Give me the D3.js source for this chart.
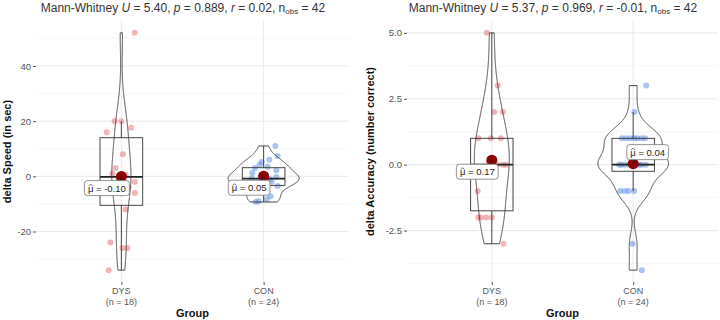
<!DOCTYPE html>
<html><head><meta charset="utf-8">
<script src="https://cdn.jsdelivr.net/npm/d3@7/dist/d3.min.js"></script>
<style>
body{margin:0;background:#fff}
svg{display:block;font-family:"Liberation Sans",Arial,Helvetica,sans-serif}
</style>
</head><body>
<svg id="chart" width="720" height="320"></svg>
<script>
// ---------- data ----------
const groups = ["DYS", "CON"];
const groupCounts = ["(n = 18)", "(n = 24)"];

const speedDYS       = [52, 20, 20, 17.6, 16, 8, 3, 1, 0.6, -1, -2, -4, -6, -12, -24, -26, -26, -34];
const speedDYSJitter = [0.094, -0.047, 0.0, 0.068, -0.103, 0.011, -0.04, -0.063, 0.03, -0.02, 0.094, 0.05, 0.094, 0.03, -0.077, 0.007, 0.042, -0.089];
const speedCON       = [11, 7.4, 6.0, 5.2, 4.2, 3.5, 3.0, 2.2, 1.2, 0.5, -0.2, -0.8, -0.8, -1.0, -1.5, -2.0, -2.5, -3.2, -3.5, -5.7, -7.2, -8.3, -9.0, -9.3];
const speedCONJitter = [0.082, 0.098, 0.04, -0.014, -0.028, 0.028, -0.061, 0.089, -0.079, -0.014, 0.089, -0.084, 0.014, 0.044, -0.042, 0.056, -0.098, -0.014, 0.098, -0.093, 0.049, 0.021, -0.035, -0.056];
const speedMeans     = [-0.10, 0.05];
const speedMeanText  = ["-0.10", "0.05"];
const speedTicks     = [-20, 0, 20, 40];
const speedTickText  = ["-20", "0", "20", "40"];
const speedMinor     = [-30, -10, 10, 30, 50];
const speedStats     = ["5.40", "0.889", "0.02", "42"];
const speedYTitle    = "delta Speed (in sec)";

const accDYS       = [5, 3, 2, 2, 1, 1, 1, 0, 0, 0, 0, 0, -1, -2, -2, -2, -2, -3];
const accDYSJitter = [-0.035, 0.042, 0.018, 0.078, -0.095, -0.007, 0.064, 0.078, 0.101, -0.026, 0.01, 0.037, -0.1, -0.095, -0.078, -0.04, 0.0, 0.082];
const accCON       = [3, 2, 1, 1, 1, 1, 1, 1, 1, 0, 0, 0, 0, 0, 0, 0, 0, 0, -1, -1, -1, -1, -3, -4];
const accCONJitter = [0.092, 0.009, 0.009, 0.085, 0.03, -0.05, -0.08, 0.06, -0.02, -0.085, 0.061, -0.06, -0.03, 0.0, 0.03, 0.09, -0.1, 0.045, -0.092, -0.033, 0.007, -0.06, -0.005, 0.061];
const accMeans     = [0.17, 0.04];
const accMeanText  = ["0.17", "0.04"];
const accTicks     = [-2.5, 0, 2.5, 5];
const accTickText  = ["-2.5", "0.0", "2.5", "5.0"];
const accMinor     = [-3.75, -1.25, 1.25, 3.75];
const accStats     = ["5.37", "0.969", "-0.01", "42"];
const accYTitle    = "delta Accuracy  (number correct)";

// ---------- layout / style ----------
const fills = ["#E8797B", "#6492E4"];
const panels = [
  {x0: 36, x1: 349, groupsData: [speedDYS, speedCON], jit: [speedDYSJitter, speedCONJitter],
   ticks: speedTicks, tickText: speedTickText, minor: speedMinor, means: speedMeans, meanText: speedMeanText,
   stats: speedStats, ytitle: speedYTitle, titleX: 183, ytitleX: 11, labelDir: [[-1, 1], [-1, 1]]},
  {x0: 407, x1: 718, groupsData: [accDYS, accCON], jit: [accDYSJitter, accCONJitter],
   ticks: accTicks, tickText: accTickText, minor: accMinor, means: accMeans, meanText: accMeanText,
   stats: accStats, ytitle: accYTitle, titleX: 553, ytitleX: 374, labelDir: [[-1, 1], [1, -1]]}
];
const yTop = 21, yBottom = 282;
const svg = d3.select("#chart");

function kde(vals) {
  const s = vals.slice().sort(d3.ascending), n = s.length;
  const sd = d3.deviation(s);
  const iqr = (d3.quantile(s, 0.75) - d3.quantile(s, 0.25)) / 1.34;
  let lo = Math.min(sd, iqr);
  if (!lo) lo = sd || 1;
  const bw = 0.9 * lo * Math.pow(n, -0.2);
  const mn = s[0], mx = s[n - 1];
  return d3.range(512).map(i => {
    const yv = mn + (mx - mn) * i / 511;
    let d = 0;
    for (const v of s) { const z = (yv - v) / bw; d += Math.exp(-0.5 * z * z); }
    return [yv, d / (n * bw * Math.sqrt(2 * Math.PI))];
  });
}

panels.forEach(p => {
  const g = svg.append("g");
  const all = p.groupsData.flat();
  const [mn, mx] = d3.extent(all);
  const pad = (mx - mn) * 0.05;
  const y = d3.scaleLinear().domain([mn - pad, mx + pad]).range([yBottom, yTop]);
  const x = d3.scalePoint().domain(groups).range([p.x0, p.x1]).padding(0.6);
  const step = x.step();

  // grid
  g.selectAll(".minor").data(p.minor).join("line")
    .attr("x1", p.x0).attr("x2", p.x1).attr("y1", d => y(d)).attr("y2", d => y(d))
    .attr("stroke", "#f3f3f3").attr("stroke-width", 0.7);
  g.selectAll(".major").data(p.ticks).join("line")
    .attr("x1", p.x0).attr("x2", p.x1).attr("y1", d => y(d)).attr("y2", d => y(d))
    .attr("stroke", "#e6e6e6").attr("stroke-width", 0.9);
  g.selectAll(".vmajor").data(groups).join("line")
    .attr("x1", d => x(d)).attr("x2", d => x(d)).attr("y1", yTop).attr("y2", yBottom)
    .attr("stroke", "#e6e6e6").attr("stroke-width", 0.9);

  // axes
  const ya = g.append("g").attr("transform", `translate(${p.x0},0)`)
    .call(d3.axisLeft(y).tickValues(p.ticks).tickFormat((d, i) => p.tickText[i]).tickSize(3).tickPadding(2));
  ya.select(".domain").remove();
  ya.selectAll("line").attr("stroke", "#555");
  ya.selectAll("text").attr("fill", "#555").attr("font-size", 9.5).attr("font-family", "Liberation Sans, Arial, sans-serif");

  const xa = g.append("g").attr("transform", `translate(0,${yBottom})`)
    .call(d3.axisBottom(x).tickSize(3).tickFormat(""));
  xa.select(".domain").remove();
  xa.selectAll("line").attr("stroke", "#555");
  groups.forEach((gr, i) => {
    g.append("text").attr("x", x(gr)).attr("y", 294).attr("text-anchor", "middle")
      .attr("font-size", 9).attr("fill", "#555").text(gr);
    g.append("text").attr("x", x(gr)).attr("y", 304.5).attr("text-anchor", "middle")
      .attr("font-size", 9).attr("fill", "#555").text(groupCounts[i]);
  });

  // global density max for area-scaled violins
  const dens = p.groupsData.map(kde);
  const dmax = d3.max(dens, d => d3.max(d, e => e[1]));

  p.groupsData.forEach((vals, gi) => {
    const cx = x(groups[gi]);
    // points
    g.selectAll(null).data(vals).join("circle")
      .attr("cx", (d, i) => cx + p.jit[gi][i] * step).attr("cy", d => y(d)).attr("r", 3)
      .attr("fill", fills[gi]).attr("fill-opacity", 0.55);

    // box
    const s = vals.slice().sort(d3.ascending);
    const q1 = d3.quantile(s, 0.25), q2 = d3.quantile(s, 0.5), q3 = d3.quantile(s, 0.75);
    const iqr = q3 - q1;
    const wHi = d3.max(s.filter(v => v <= q3 + 1.5 * iqr));
    const wLo = d3.min(s.filter(v => v >= q1 - 1.5 * iqr));
    const bw = 0.3 * step;
    g.append("line").attr("x1", cx).attr("x2", cx).attr("y1", y(q3)).attr("y2", y(wHi)).attr("stroke", "#333").attr("stroke-width", 0.9);
    g.append("line").attr("x1", cx).attr("x2", cx).attr("y1", y(q1)).attr("y2", y(wLo)).attr("stroke", "#333").attr("stroke-width", 0.9);
    g.append("rect").attr("x", cx - bw / 2).attr("width", bw).attr("y", y(q3)).attr("height", y(q1) - y(q3))
      .attr("fill", "none").attr("stroke", "#333").attr("stroke-width", 0.9);
    g.append("line").attr("x1", cx - bw / 2).attr("x2", cx + bw / 2).attr("y1", y(q2)).attr("y2", y(q2))
      .attr("stroke", "#222").attr("stroke-width", 1.8);

    // violin
    const d = dens[gi];
    const hw = v => v / dmax * 0.25 * step;
    const pts = d.map(e => [cx + hw(e[1]), y(e[0])]).concat(d.slice().reverse().map(e => [cx - hw(e[1]), y(e[0])]));
    g.append("path").attr("d", d3.line()(pts) + "Z").attr("fill", "none").attr("stroke", "#333").attr("stroke-width", 0.9);
  });

  // means + labels
  p.groupsData.forEach((vals, gi) => {
    const cx = x(groups[gi]), cy = y(p.means[gi]);
    g.append("circle").attr("cx", cx).attr("cy", cy).attr("r", 5.5).attr("fill", "#8B0000");
    const [dx, dy] = p.labelDir[gi];
    const lx = cx + dx * 14.5, ly = cy + dy * 11.5;
    const lg = g.append("g");
    const txt = lg.append("text").attr("x", lx).attr("y", ly + 3.4).attr("text-anchor", "middle")
      .attr("font-size", 9.5).attr("fill", "#222").text("\u03BC = " + p.meanText[gi]);
    const tw = txt.node().getComputedTextLength() + 7;
    const th = 15;
    // hat over mu
    const ext = txt.node().getExtentOfChar(0);
    const hx = ext.x + ext.width / 2, hy = ly - 3.6;
    lg.append("path").attr("d", `M${hx - 1.8},${hy + 1.4}L${hx},${hy - 0.4}L${hx + 1.8},${hy + 1.4}`)
      .attr("fill", "none").attr("stroke", "#222").attr("stroke-width", 0.7);
    g.append("line").attr("x1", cx).attr("y1", cy).attr("x2", lx - dx * tw / 2 * 0.6).attr("y2", ly - dy * th / 2)
      .attr("stroke", "#111").attr("stroke-width", 0.8);
    lg.insert("rect", "text").attr("x", lx - tw / 2).attr("y", ly - th / 2).attr("width", tw).attr("height", th)
      .attr("rx", 3).attr("fill", "#fff").attr("stroke", "#777").attr("stroke-width", 0.8);
    lg.raise();
  });

  // titles
  const t = g.append("text").attr("x", p.titleX).attr("y", 12).attr("text-anchor", "middle")
    .attr("font-size", 12).attr("fill", "#333");
  t.append("tspan").text("Mann-Whitney ");
  t.append("tspan").attr("font-style", "italic").text("U");
  t.append("tspan").text(" = " + p.stats[0] + ", ");
  t.append("tspan").attr("font-style", "italic").text("p");
  t.append("tspan").text(" = " + p.stats[1] + ", ");
  t.append("tspan").attr("font-style", "italic").text("r");
  t.append("tspan").text(" = " + p.stats[2] + ", n");
  t.append("tspan").attr("font-size", 8).attr("dy", 1.5).text("obs");
  t.append("tspan").attr("dy", -1.5).text(" = " + p.stats[3]);

  g.append("text").attr("transform", `translate(${p.ytitleX},${(yTop + yBottom) / 2}) rotate(-90)`)
    .attr("text-anchor", "middle").attr("font-size", 11).attr("font-weight", "bold").attr("fill", "#111")
    .text(p.ytitle);
  g.append("text").attr("x", (p.x0 + p.x1) / 2).attr("y", 317).attr("text-anchor", "middle")
    .attr("font-size", 11).attr("font-weight", "bold").attr("fill", "#111").text("Group");
});
</script>
</body></html>
